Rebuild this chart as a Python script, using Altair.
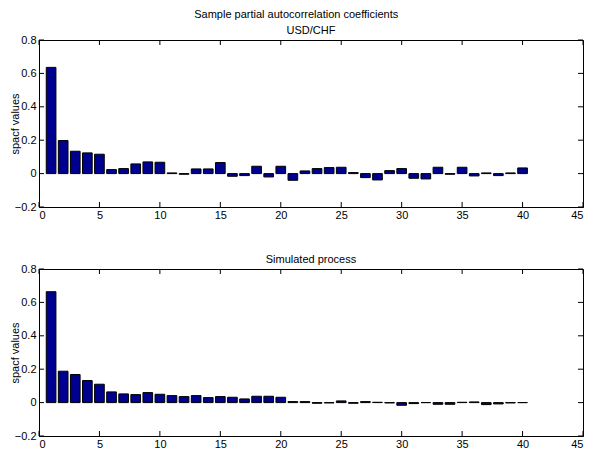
import altair as alt
import pandas as pd

lags = list(range(1, 41))
usd_chf = [0.636, 0.198, 0.134, 0.124, 0.116, 0.024, 0.030, 0.058, 0.070, 0.068,
           0.004, -0.004, 0.028, 0.028, 0.066, -0.016, -0.012, 0.044, -0.020, 0.044,
           -0.040, 0.016, 0.030, 0.036, 0.038, 0.006, -0.024, -0.038, 0.018, 0.030,
           -0.028, -0.032, 0.038, -0.004, 0.038, -0.014, 0.004, -0.012, 0.004, 0.034]
simulated = [0.664, 0.188, 0.168, 0.132, 0.110, 0.064, 0.052, 0.048, 0.060, 0.050,
             0.042, 0.036, 0.042, 0.030, 0.036, 0.032, 0.022, 0.038, 0.038, 0.032,
             0.006, 0.006, -0.004, -0.002, 0.010, -0.004, 0.006, 0.002, -0.002, -0.016,
             -0.006, 0.000, -0.010, -0.010, 0.002, 0.004, -0.012, -0.008, -0.002, 0.000]
x_ticks = [0, 5, 10, 15, 20, 25, 30, 35, 40, 45]
y_ticks = [-0.2, 0, 0.2, 0.4, 0.6, 0.8]

W, H = 544, 167
BAR = "#00008f"
FONT = "Liberation Sans"

X_AXIS = alt.Axis(values=x_ticks, title=None, tickSize=0, labelPadding=2,
                  grid=False, domainColor="black", labelColor="black",
                  labelFont=FONT, labelFontSize=11)
Y_AXIS = alt.Axis(values=y_ticks, title="spacf values", tickSize=0,
                  labelPadding=3, format="~g", grid=False,
                  domainColor="black", labelColor="black",
                  labelFont=FONT, labelFontSize=11, titleFont=FONT,
                  titleFontSize=11, titleFontWeight="normal",
                  titleColor="black", titleX=-19)


def panel(values, title):
    df = pd.DataFrame({"lag": lags, "spacf": values})
    xs = alt.Scale(domain=[0, 45], nice=False, zero=False)
    ys = alt.Scale(domain=[-0.2, 0.8], nice=False)
    bars = alt.Chart(df).transform_calculate(
        lo="datum.lag - 0.4", hi="datum.lag + 0.4", base="0"
    ).mark_bar(color=BAR, stroke="black", strokeWidth=1).encode(
        x=alt.X("lo:Q", scale=xs, axis=X_AXIS),
        x2="hi:Q",
        y=alt.Y("spacf:Q", scale=ys, axis=Y_AXIS),
        y2="base:Q",
    )
    tx = pd.DataFrame({"t": x_ticks})
    ty = pd.DataFrame({"v": y_ticks})
    xb = alt.Chart(tx).mark_rule(color="black").encode(
        x=alt.X("t:Q", scale=xs, axis=X_AXIS), y=alt.value(H), y2=alt.value(H - 5))
    xt = alt.Chart(tx).mark_rule(color="black").encode(
        x=alt.X("t:Q", scale=xs, axis=X_AXIS), y=alt.value(0), y2=alt.value(5))
    yl = alt.Chart(ty).mark_rule(color="black").encode(
        y=alt.Y("v:Q", scale=ys, axis=Y_AXIS), x=alt.value(0), x2=alt.value(5))
    yr = alt.Chart(ty).mark_rule(color="black").encode(
        y=alt.Y("v:Q", scale=ys, axis=Y_AXIS), x=alt.value(W - 5), x2=alt.value(W))
    return alt.layer(bars, xb, xt, yl, yr).properties(
        width=W, height=H,
        title=alt.TitleParams(text=title, font=FONT, fontSize=11,
                              fontWeight="normal", color="black",
                              offset=0, dy=2, anchor="middle", frame="group"),
    )


top = panel(usd_chf, "USD/CHF")
bottom = panel(simulated, "Simulated process")

chart = alt.vconcat(top, bottom, spacing=32).properties(
    padding={"left": 0, "top": 0, "right": 0, "bottom": 0},
    background="white",
    title=alt.TitleParams(text="Sample partial autocorrelation coefficients",
                          font=FONT, fontSize=11, fontWeight="normal",
                          color="black", offset=5, anchor="middle"),
).configure_view(stroke="black", strokeWidth=1)

chart.save("out.html", embed_options={"renderer": "svg", "actions": False})
